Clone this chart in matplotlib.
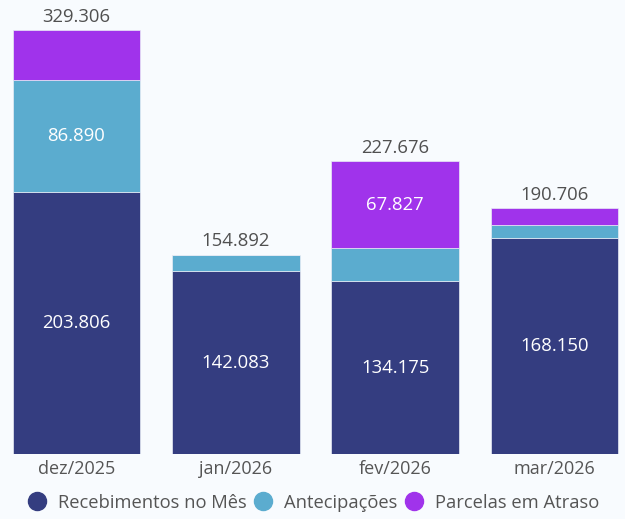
import matplotlib
matplotlib.use("Agg")
import matplotlib.pyplot as plt
from matplotlib.lines import Line2D
import numpy as np

categories = ["dez/2025", "jan/2026", "fev/2026", "mar/2026"]
recebimentos = [203.806, 142.083, 134.175, 168.150]
antecipacoes = [86.890, 12.809, 25.674, 9.400]
atraso = [38.610, 0.0, 67.827, 13.156]
series_names = ["Recebimentos no Mês", "Antecipações", "Parcelas em Atraso"]
colors = ["#343D80", "#5BACCF", "#A033EB"]

plt.rcParams['font.family'] = ['Open Sans', 'DejaVu Sans']
bg = "#F8FBFE"
fig = plt.figure(figsize=(6.25, 5.19), dpi=100, facecolor=bg)
ax = fig.add_axes([0, 0.1252, 1, 0.8748])
ax.set_facecolor(bg)

x = np.arange(len(categories))
series = [recebimentos, antecipacoes, atraso]
bottom = np.zeros(len(categories))
for vals, col in zip(series, colors):
    vals = np.array(vals)
    ax.bar(x, vals, bottom=bottom, width=0.8, color=col, edgecolor="#E8ECF5", linewidth=0.5)
    for xi, v, b in zip(x, vals, bottom):
        if v > 50:
            ax.text(xi, b + v / 2, f"{v:.3f}", ha="center", va="center",
                    color="white", fontsize=13.3)
    bottom += vals

totals = bottom
for xi, t in zip(x, totals):
    ax.annotate(f"{t:.3f}", (xi, t), xytext=(0, 3), textcoords="offset points",
                ha="center", va="bottom", fontsize=13.3, color="#505050")

ax.set_xlim(-0.48, 3.443)
ax.set_ylim(0, 454 / 1.2876)
ax.set_xticks(x)
ax.set_xticklabels(categories, fontsize=13, color="#555555")
ax.tick_params(axis="x", length=0, pad=4)
ax.set_yticks([])
for s in ax.spines.values():
    s.set_visible(False)

handles = [Line2D([0], [0], marker="o", linestyle="", markersize=13,
                  markerfacecolor=c, markeredgecolor=c) for c in colors]
fig.legend(handles, series_names, loc="center", bbox_to_anchor=(0.502, 0.031),
           ncol=3, frameon=False, fontsize=13.2, handletextpad=0.65,
           columnspacing=0.4, labelcolor="#555555", handlelength=1.0)

fig.savefig("out.png", dpi=100, facecolor=bg)
